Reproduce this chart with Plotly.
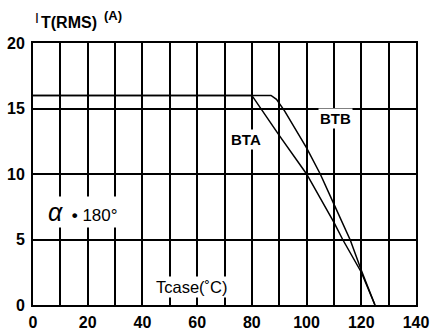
import plotly.graph_objects as go

# BTA curve (Tcase degC, IT(RMS) A)
bta_x = [0, 80, 90, 100, 110, 113.2, 120, 125]
bta_y = [16, 16, 12.95, 10, 6.3, 5, 2.5, 0]
# BTB curve
btb_x = [0, 87, 89, 92, 100, 105, 110, 116, 120, 125]
btb_y = [16, 16, 15.7, 14.8, 12, 10, 7.7, 4.95, 2.65, 0]

x_ticks = [0, 20, 40, 60, 80, 100, 120, 140]
y_ticks = [0, 5, 10, 15, 20]

FONT = "Liberation Sans"

fig = go.Figure()
fig.add_trace(go.Scatter(x=bta_x, y=bta_y, mode="lines",
                         line=dict(color="black", width=1.5), showlegend=False))
fig.add_trace(go.Scatter(x=btb_x, y=btb_y, mode="lines",
                         line=dict(color="black", width=1.5), showlegend=False))

tickfont = dict(family=FONT, size=16, color="black", weight="bold")
fig.update_xaxes(range=[0, 140], tickvals=x_ticks, automargin=False,
                 showgrid=True, gridcolor="black", gridwidth=1.5,
                 minor=dict(tickvals=[10, 30, 50, 70, 90, 110, 130], showgrid=True,
                            gridcolor="black", gridwidth=1.5, ticks=""),
                 showline=True, linecolor="black", linewidth=2, mirror=True,
                 zeroline=False, ticks="", ticklabelstandoff=2,
                 tickfont=tickfont)
fig.update_yaxes(range=[0, 20], tickvals=y_ticks, automargin=False,
                 showgrid=True, gridcolor="black", gridwidth=1.5,
                 showline=True, linecolor="black", linewidth=2, mirror=True,
                 zeroline=False, ticks="", ticklabelstandoff=3,
                 tickfont=tickfont)

ann_font = dict(family=FONT, size=15, color="black", weight="bold")
fig.add_annotation(x=78, y=12.6, text="BTA", showarrow=False, font=ann_font, bgcolor="white")
fig.add_annotation(x=110.4, y=14.2, text="BTB", showarrow=False, font=ann_font, bgcolor="white")
fig.add_annotation(x=44.2, y=1.4, text="Tcase(˚C)", showarrow=False, xanchor="left",
                   font=dict(family=FONT, size=16.5, color="black"), bgcolor="white")
fig.add_annotation(x=4.6, y=7.1, xanchor="left",
                   text="<i><span style='font-size:25px'>α</span></i>&nbsp; <b>•</b> 180°",
                   showarrow=False,
                   font=dict(family=FONT, size=17, color="black"), bgcolor="white")
# y-axis title pieces
fig.add_annotation(xref="paper", yref="paper", x=0, y=1, xanchor="left", yanchor="middle",
                   xshift=0, yshift=25, text="I", showarrow=False,
                   font=dict(family=FONT, size=14, color="black"))
fig.add_annotation(xref="paper", yref="paper", x=0, y=1, xanchor="left", yanchor="middle",
                   xshift=6, yshift=21, text="T(RMS)", showarrow=False,
                   font=dict(family=FONT, size=16, color="black", weight="bold"))
fig.add_annotation(xref="paper", yref="paper", x=0, y=1, xanchor="left", yanchor="middle",
                   xshift=69, yshift=28, text="(A)", showarrow=False,
                   font=dict(family=FONT, size=13, color="black", weight="bold"))

fig.update_layout(width=440, height=330, margin=dict(l=33, r=24, t=43, b=25),
                  plot_bgcolor="white", paper_bgcolor="white")
fig.write_html("out.html", config={"displayModeBar": False},
               post_script="document.body.style.margin='0';document.body.style.padding='0';")
